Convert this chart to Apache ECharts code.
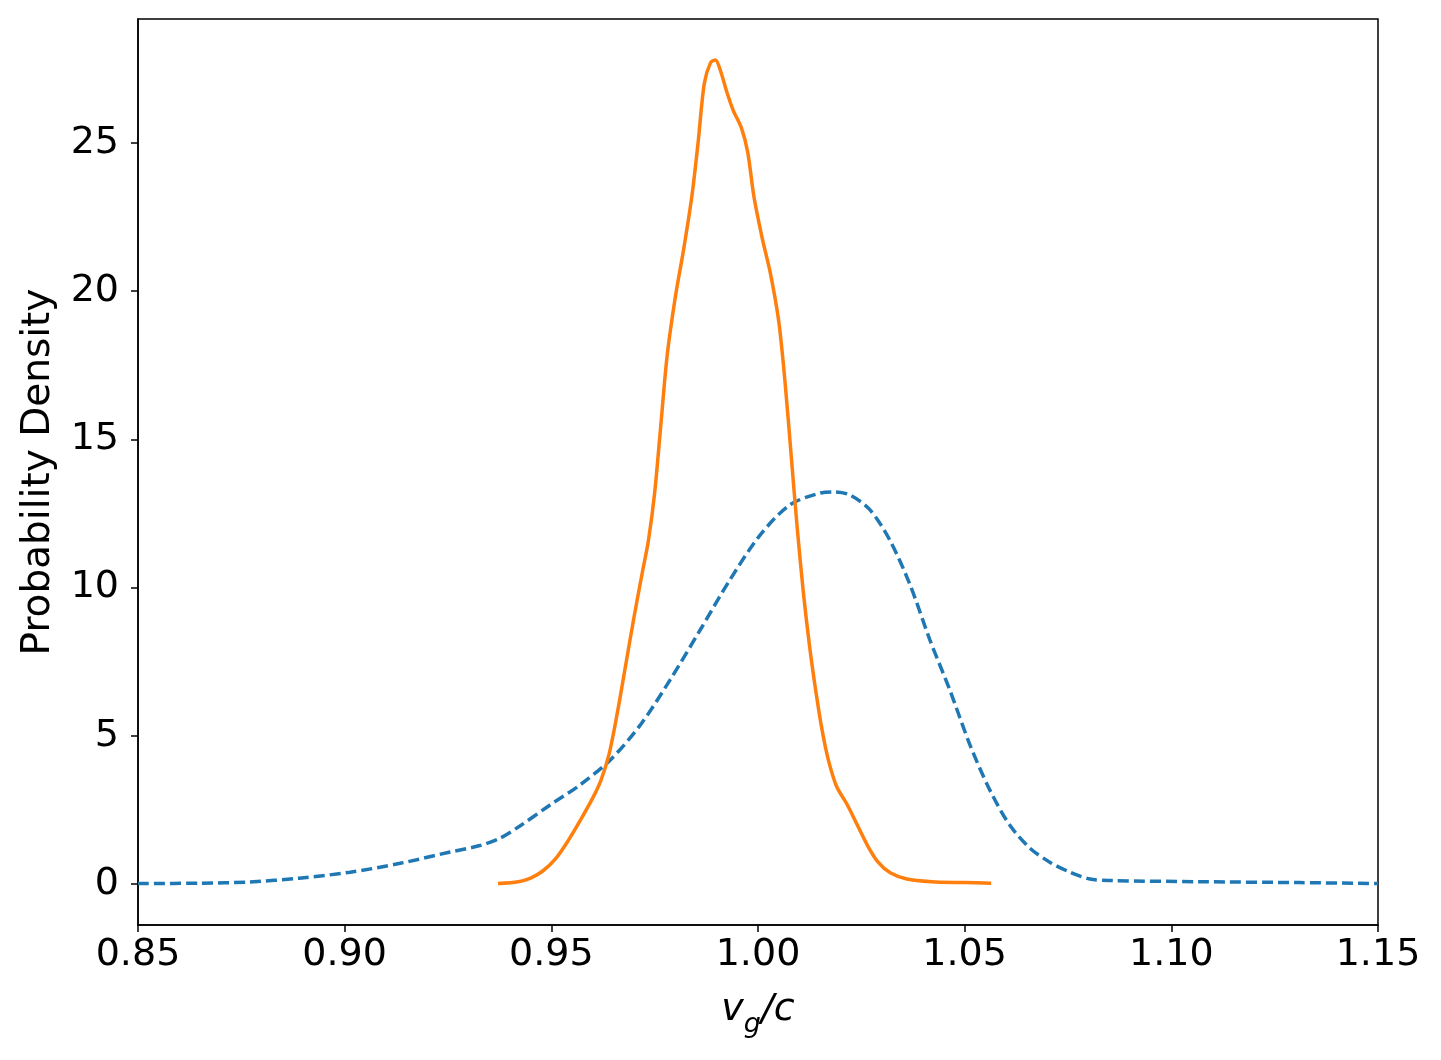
<!DOCTYPE html>
<html>
<head>
<meta charset="utf-8">
<script src="https://cdn.jsdelivr.net/npm/echarts@6/dist/echarts.min.js"></script>
<style>html,body{margin:0;padding:0;background:#fff}#c{width:1441px;height:1060px}</style>
</head>
<body>
<div id="c"></div>
<script>
const xTicks = [0.85, 0.90, 0.95, 1.00, 1.05, 1.10, 1.15];
const yTicks = [0, 5, 10, 15, 20, 25];

const blueX = [0.850,0.865,0.877,0.889,0.9013,0.9134,0.9255,0.9327,0.9376,0.9424,0.9497,0.9569,0.9642,0.9715,0.9787,0.986,0.9932,1.0005,1.0077,1.015,1.0186,1.0223,1.0271,1.0319,1.0368,1.0416,1.0464,1.0513,1.0561,1.0609,1.0658,1.0706,1.0755,1.0803,1.0852,1.107,1.131,1.150];
const blueY = [0.02,0.03,0.07,0.2,0.4,0.7,1.08,1.3,1.55,1.96,2.67,3.34,4.18,5.36,6.88,8.57,10.26,11.77,12.79,13.19,13.23,13.12,12.62,11.6,10.09,8.23,6.55,4.69,3.17,1.99,1.21,0.74,0.4,0.17,0.12,0.08,0.05,0.02];

const orangeX = [0.9371,0.9420,0.9450,0.9480,0.9510,0.9540,0.9570,0.9600,0.9620,0.9640,0.9660,0.9680,0.9700,0.9720,0.9735,0.9750,0.9765,0.9780,0.9800,0.9820,0.9840,0.9855,0.9870,0.9885,0.9897,0.9910,0.9925,0.9940,0.9960,0.9975,0.9990,1.0010,1.0030,1.0050,1.0065,1.0080,1.0095,1.0110,1.0125,1.0140,1.0155,1.0170,1.0190,1.0215,1.0240,1.0265,1.0290,1.0320,1.0360,1.0420,1.0500,1.0564];
const orangeY = [0.02,0.08,0.2,0.45,0.85,1.45,2.15,2.9,3.5,4.4,5.8,7.4,9.0,10.5,11.6,13.2,15.5,17.8,19.8,21.4,23.2,25.0,27.0,27.7,27.8,27.4,26.7,26.1,25.5,24.7,23.2,21.8,20.6,19.0,17.0,14.5,12.0,9.8,8.0,6.5,5.2,4.2,3.3,2.7,2.0,1.3,0.75,0.38,0.17,0.08,0.05,0.03];

const font = 'DejaVu Sans';
const chart = echarts.init(document.getElementById('c'), null, {renderer: 'canvas'});
chart.setOption({
  animation: false,
  backgroundColor: '#fff',
  grid: {left: 138, right: 63, top: 19, bottom: 135, containLabel: false, outerBoundsMode: 'none',
         show: true, borderColor: '#000', borderWidth: 1.5, backgroundColor: 'transparent'},
  xAxis: {
    type: 'value', min: 0.85, max: 1.15,
    name: '{i|v}{s|g}{i|/c}', nameLocation: 'middle', nameGap: 66,
    nameTextStyle: {rich: {
      i: {fontFamily: font, fontStyle: 'italic', fontSize: 38, color: '#000'},
      s: {fontFamily: font, fontStyle: 'italic', fontSize: 27, color: '#000', verticalAlign: 'bottom', padding: [0,0,-9,0]}
    }},
    axisLine: {show: true, onZero: false, lineStyle: {color: '#000', width: 1.5}},
    axisTick: {show: true, inside: false, length: 7, lineStyle: {color: '#000', width: 1.5}, customValues: xTicks},
    axisLabel: {customValues: xTicks, formatter: v => v.toFixed(2), fontFamily: font, fontSize: 38, color: '#000', margin: 11},
    splitLine: {show: false}
  },
  yAxis: {
    type: 'value', min: -1.38, max: 29.18,
    name: 'Probability Density', nameLocation: 'middle', nameGap: 80, nameRotate: 90,
    nameTextStyle: {fontFamily: font, fontSize: 39, color: '#000'},
    axisLine: {show: true, onZero: false, lineStyle: {color: '#000', width: 1.5}},
    axisTick: {show: true, inside: false, length: 7, lineStyle: {color: '#000', width: 1.5}, customValues: yTicks},
    axisLabel: {customValues: yTicks, formatter: v => String(v), fontFamily: font, fontSize: 38, color: '#000', margin: 19},
    splitLine: {show: false}
  },
  series: [
    {type: 'line', data: blueX.map((x, i) => [x, blueY[i]]), showSymbol: false, smooth: 0.3,
     lineStyle: {color: '#1f77b4', width: 3.5, type: [11, 5]}, z: 2},
    {type: 'line', data: orangeX.map((x, i) => [x, orangeY[i]]), showSymbol: false, smooth: 0.3,
     lineStyle: {color: '#ff7f0e', width: 3.5}, z: 3}
  ]
});
</script>
</body>
</html>
